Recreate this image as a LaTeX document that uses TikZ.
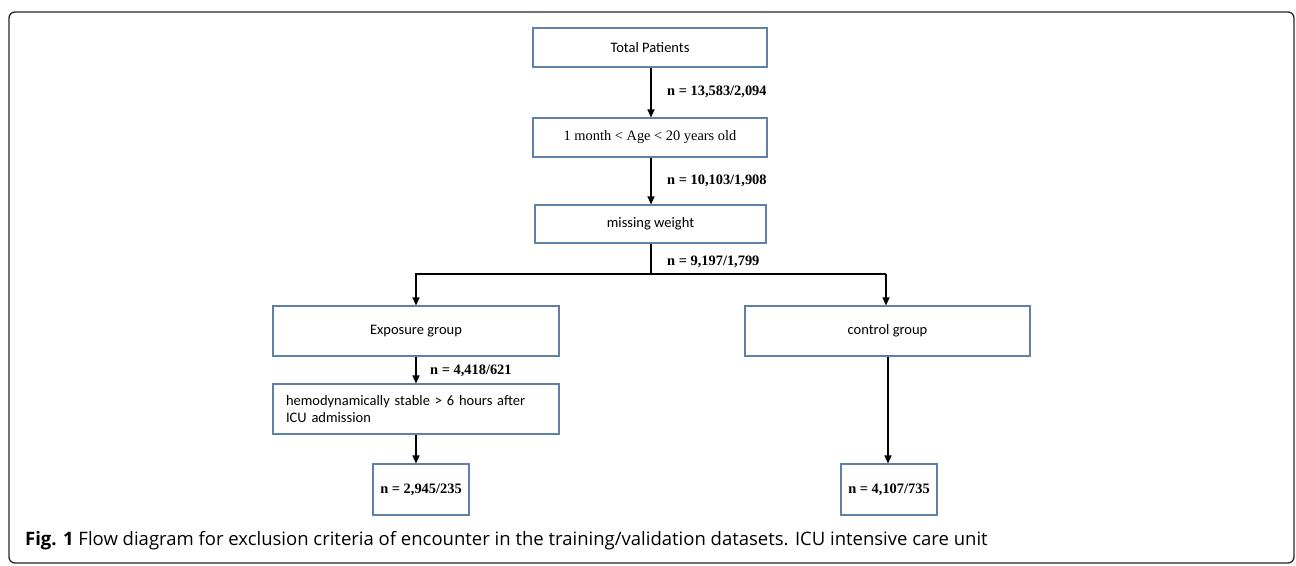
\documentclass[tikz,border=0pt]{standalone}
\usepackage{fontspec}
\setmainfont{Liberation Serif}
\newfontfamily\boxsans{Carlito}
\newfontfamily\capsans{Open Sans}
\usetikzlibrary{arrows.meta}
\definecolor{boxblue}{RGB}{96,128,168}
\tikzset{
  flowbox/.style={draw=boxblue, line width=1.1pt, fill=white, inner sep=0pt},
  flowarrow/.style={draw=black, line width=1.1pt, -{Triangle[length=8pt,width=7pt]}},
  flowline/.style={draw=black, line width=1.1pt},
  nlabel/.style={font=\fontsize{14.4}{16}\selectfont\bfseries, anchor=west, inner sep=0pt},
  sanstext/.style={font=\boxsans\fontsize{14.5}{17}\selectfont},
  seriftext/.style={font=\fontsize{14.4}{16}\selectfont}
}
\begin{document}
\begin{tikzpicture}[x=1pt,y=-1pt]
\useasboundingbox (0,0) rectangle (1296,565);
\draw[line width=1.3pt, rounded corners=6pt, draw=black!85] (9,12) rectangle (1294,563);

% boxes
\node[flowbox, minimum width=234pt, minimum height=39pt, sanstext] (total) at (650,47.5) {Total Patients};
\node[flowbox, minimum width=234pt, minimum height=39pt, seriftext] (age) at (650,137.5) {1 month < Age < 20 years old};
\node[flowbox, minimum width=231pt, minimum height=38pt, sanstext] (weight) at (650.5,224) {missing weight};
\node[flowbox, minimum width=286pt, minimum height=50pt, sanstext] (expo) at (416,331) {Exposure group};
\node[flowbox, minimum width=286pt, minimum height=50pt, sanstext, align=left, text width=260pt] (hemo) at (416,409) {hemodynamically stable > 6 hours after\\ICU admission};
\node[flowbox, minimum width=96pt, minimum height=51pt, font=\fontsize{14.4}{16}\selectfont\bfseries] (fin1) at (421,489.5) {n = 2,945/235};
\node[flowbox, minimum width=285pt, minimum height=50pt, sanstext] (ctrl) at (887.5,331) {control group};
\node[flowbox, minimum width=96pt, minimum height=51pt, font=\fontsize{14.4}{16}\selectfont\bfseries] (fin2) at (889,489.5) {n = 4,107/735};

% connectors
\draw[flowarrow] (total.south -| 651,0) -- (age.north -| 651,0);
\draw[flowarrow] (age.south -| 651,0) -- (weight.north -| 651,0);
\coordinate (split) at (651,274);
\coordinate (splitL) at (416,274);
\coordinate (splitR) at (886,274);
\draw[flowline] (weight.south -| split) -- (split);
\draw[flowarrow] (splitR) -- (splitL) -- (expo.north -| splitL);
\draw[flowarrow] (splitR) -- (ctrl.north -| splitR);
\draw[flowarrow] (expo.south -| splitL) -- (hemo.north -| splitL);
\draw[flowarrow] (hemo.south -| splitL) -- (fin1.north -| splitL);
\draw[flowarrow] (ctrl.south -| 888,0) -- (fin2.north -| 888,0);

% labels
\node[nlabel] (l1) at (667,92) {n = 13,583/2,094};
\node[nlabel] (l2) at (667,181) {n = 10,103/1,908};
\node[nlabel] (l3) at (667,262) {n = 9,197/1,799};
\node[nlabel] (l4) at (430,371) {n = 4,418/621};

% caption
\node[anchor=west, inner sep=0pt, font=\capsans\fontsize{18.5}{20}\selectfont] (cap) at (25,541) {\textbf{Fig. 1} Flow diagram for exclusion criteria of encounter in the training/validation datasets. ICU intensive care unit};
\end{tikzpicture}
\end{document}
